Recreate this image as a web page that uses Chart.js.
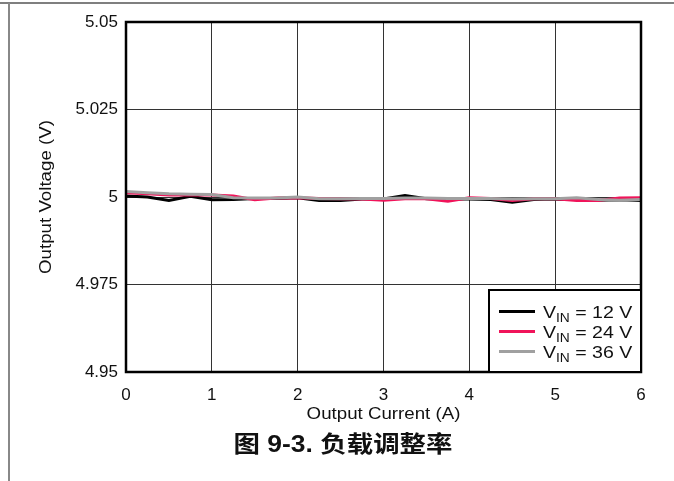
<!DOCTYPE html>
<html>
<head>
<meta charset="utf-8">
<script src="https://cdn.jsdelivr.net/npm/chart.js@4.4.0/dist/chart.umd.min.js"></script>
<style>
  html, body { margin: 0; padding: 0; background: #fff; }
  #wrap { position: relative; width: 674px; height: 481px; }
</style>
</head>
<body>
<div id="wrap"><canvas id="c" width="674" height="481"></canvas></div>
<script>
// Data (A, V)
const currentA = [0, 0.25, 0.5, 0.75, 1, 1.25, 1.5, 1.75, 2, 2.25, 2.5, 2.75, 3,
                  3.25, 3.5, 3.75, 4, 4.25, 4.5, 4.75, 5, 5.25, 5.5, 5.75, 6];
const vin12 = [5.0003, 5.0000, 4.9990, 5.0002, 4.9992, 4.9993, 4.9996, 4.9996, 4.9998,
               4.9990, 4.9990, 4.9994, 4.9994, 5.0004, 4.9995, 4.9994, 4.9994, 4.9993,
               4.9985, 4.9993, 4.9994, 4.9993, 4.9991, 4.9992, 4.9990];
const vin24 = [5.0012, 5.0009, 5.0006, 5.0006, 5.0006, 5.0003, 4.9992, 4.9997, 4.9998,
               4.9996, 4.9995, 4.9994, 4.9991, 4.9995, 4.9995, 4.9988, 4.9998, 4.9996,
               4.9990, 4.9995, 4.9995, 4.9990, 4.9990, 4.9997, 4.9998];
const vin36 = [5.0016, 5.0012, 5.0009, 5.0008, 5.0007, 4.9998, 4.9997, 4.9997, 5.0000,
               4.9995, 4.9995, 4.9996, 4.9996, 4.9997, 4.9997, 4.9996, 4.9996, 4.9996,
               4.9994, 4.9995, 4.9995, 4.9998, 4.9993, 4.9991, 4.9993];
const seriesLabels = ['12 V', '24 V', '36 V'];
const xTicks = [0, 1, 2, 3, 4, 5, 6];
const yTicks = [4.95, 4.975, 5, 5.025, 5.05];

const COLORS = ['#000000', '#f0145a', '#a0a0a0'];
const FONT = '"Liberation Sans", Arial, sans-serif';
const STRETCH = 1.15; // source text is a bit wider than plain Arial

// draw text squeezed/stretched horizontally around its anchor
function _wideText(ctx, txt, x, y, sx) {
  ctx.save();
  ctx.translate(x, y);
  ctx.scale(sx, 1);
  ctx.fillText(txt, 0, 0);
  const w = ctx.measureText(txt).width * sx;
  ctx.restore();
  return w;
}

// frame, legend box, titles — drawn by hand like the TI datasheet look
const _decoPlugin = {
  id: 'deco',
  beforeDraw(chart) {
    const { ctx } = chart;
    ctx.save();
    ctx.strokeStyle = '#555';
    ctx.lineWidth = 1.5;
    ctx.beginPath(); ctx.moveTo(0, 3); ctx.lineTo(674, 3); ctx.stroke();
    ctx.strokeStyle = '#888';
    ctx.lineWidth = 2;
    ctx.beginPath(); ctx.moveTo(9, 3); ctx.lineTo(9, 481); ctx.stroke();
    ctx.restore();
  },
  afterDraw(chart) {
    const { ctx, chartArea: a } = chart;
    ctx.save();
    // plot frame
    ctx.strokeStyle = '#000';
    ctx.lineWidth = 2.5;
    ctx.strokeRect(a.left, a.top, a.right - a.left, a.bottom - a.top);

    // legend box
    const bx = a.right - 152, by = a.bottom - 82;
    ctx.fillStyle = '#fff';
    ctx.fillRect(bx, by, a.right - bx, a.bottom - by);
    ctx.lineWidth = 2;
    ctx.strokeRect(bx, by, a.right - bx, a.bottom - by);
    seriesLabels.forEach((lab, i) => {
      const y = by + 21.5 + i * 20;
      ctx.strokeStyle = COLORS[i];
      ctx.lineWidth = 3;
      ctx.beginPath(); ctx.moveTo(bx + 10, y); ctx.lineTo(bx + 46, y); ctx.stroke();
      ctx.fillStyle = '#111';
      ctx.textBaseline = 'alphabetic';
      ctx.textAlign = 'left';
      let x = bx + 54;
      const base = y + 6;
      ctx.font = '17px ' + FONT;
      x += _wideText(ctx, 'V', x, base, STRETCH);
      ctx.font = '12px ' + FONT;
      x += _wideText(ctx, 'IN', x, base + 4, STRETCH);
      ctx.font = '17px ' + FONT;
      _wideText(ctx, ' = ' + lab, x, base, STRETCH);
    });

    // axis titles
    ctx.fillStyle = '#111';
    ctx.textAlign = 'center';
    ctx.textBaseline = 'middle';
    ctx.font = '17px ' + FONT;
    _wideText(ctx, 'Output Current (A)', (a.left + a.right) / 2, 414, 1.1);
    ctx.save();
    ctx.translate(46, (a.top + a.bottom) / 2);
    ctx.rotate(-Math.PI / 2);
    _wideText(ctx, 'Output Voltage (V)', 0, 0, 1.1);
    ctx.restore();

    // figure caption
    ctx.font = 'bold 23px ' + FONT + ', "Noto Sans CJK SC"';
    _wideText(ctx, '图 9-3. 负载调整率', 343, 446, STRETCH);
    ctx.restore();
  }
};

new Chart(document.getElementById('c'), {
  type: 'line',
  plugins: [_decoPlugin],
  data: {
    datasets: [vin12, vin24, vin36].map((vals, i) => ({
      label: 'VIN = ' + seriesLabels[i],
      data: currentA.map((x, j) => ({ x, y: vals[j] })),
      borderColor: COLORS[i],
      borderWidth: 3,
      pointRadius: 0,
      tension: 0,
      fill: false,
      order: 2 - i,
    }))
  },
  options: {
    responsive: false,
    animation: false,
    layout: { padding: { top: 22, right: 33, left: 0, bottom: 0 } },
    plugins: { legend: { display: false }, tooltip: { enabled: false } },
    scales: {
      x: {
        type: 'linear', min: 0, max: 6,
        afterBuildTicks(s) { s.ticks = xTicks.map(v => ({ value: v })); },
        afterFit(s) { s.height = 109; },
        grid: { color: '#333', lineWidth: 1, drawTicks: false },
        border: { display: false },
        ticks: { color: '#111', padding: 13, font: { family: FONT, size: 17 } }
      },
      y: {
        type: 'linear', min: 4.95, max: 5.05,
        afterBuildTicks(s) { s.ticks = yTicks.map(v => ({ value: v })); },
        afterFit(s) { s.width = 126; },
        grid: { color: '#333', lineWidth: 1, drawTicks: false },
        border: { display: false },
        ticks: {
          color: '#111', padding: 8, font: { family: FONT, size: 17 },
          callback: v => String(parseFloat(v.toFixed(3)))
        }
      }
    }
  }
});
</script>
</body>
</html>
